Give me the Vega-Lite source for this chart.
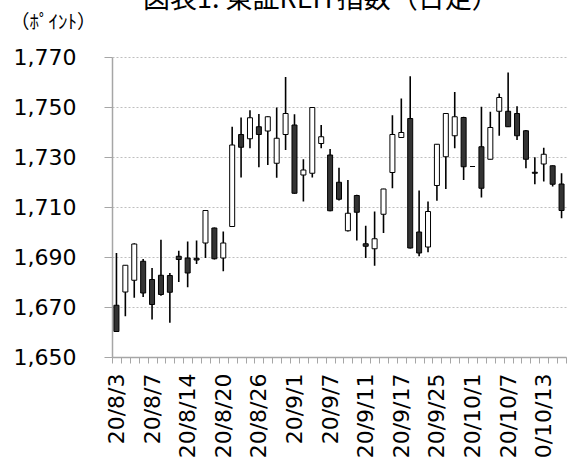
{
  "$schema": "https://vega.github.io/schema/vega-lite/v6.json",
  "width": 454,
  "height": 300,
  "autosize": {"type": "none"},
  "padding": {"left": 112, "top": 57, "right": 3, "bottom": 103},
  "background": "white",
  "title": {
    "text": "図表1: 東証REIT指数（日足）",
    "font": "Noto Sans CJK JP",
    "fontSize": 27,
    "fontWeight": "normal",
    "color": "black",
    "anchor": "start",
    "frame": "group",
    "dx": 31,
    "dy": 22,
    "baseline": "alphabetic",
    "offset": 0
  },
  "config": {"view": {"stroke": null}, "font": "DejaVu Sans"},
  "data": {
    "values": [
      {"d": "20/8/3", "o": 1670.7, "h": 1691.6, "l": 1660.0, "c": 1660.2},
      {"d": "20/8/4", "o": 1676.0, "h": 1686.8, "l": 1666.3, "c": 1686.7},
      {"d": "20/8/5", "o": 1680.7, "h": 1695.5, "l": 1673.7, "c": 1695.2},
      {"d": "20/8/6", "o": 1688.3, "h": 1689.2, "l": 1674.0, "c": 1675.6},
      {"d": "20/8/7", "o": 1681.0, "h": 1685.6, "l": 1665.0, "c": 1671.0},
      {"d": "20/8/11", "o": 1682.7, "h": 1696.9, "l": 1674.5, "c": 1675.0},
      {"d": "20/8/12", "o": 1682.6, "h": 1683.6, "l": 1663.7, "c": 1675.9},
      {"d": "20/8/13", "o": 1690.3, "h": 1692.5, "l": 1680.0, "c": 1689.0},
      {"d": "20/8/14", "o": 1689.6, "h": 1696.2, "l": 1677.9, "c": 1683.6},
      {"d": "20/8/17", "o": 1689.5, "h": 1696.6, "l": 1687.2, "c": 1688.8},
      {"d": "20/8/18", "o": 1695.6, "h": 1708.6, "l": 1689.6, "c": 1708.6},
      {"d": "20/8/19", "o": 1701.6, "h": 1701.8, "l": 1689.0, "c": 1689.3},
      {"d": "20/8/20", "o": 1689.6, "h": 1700.2, "l": 1684.3, "c": 1695.6},
      {"d": "20/8/21", "o": 1702.2, "h": 1742.1, "l": 1702.0, "c": 1734.8},
      {"d": "20/8/24", "o": 1739.0, "h": 1745.8, "l": 1721.8, "c": 1733.9},
      {"d": "20/8/25", "o": 1737.3, "h": 1748.7, "l": 1733.5, "c": 1745.7},
      {"d": "20/8/26", "o": 1742.1, "h": 1747.2, "l": 1725.9, "c": 1739.0},
      {"d": "20/8/27", "o": 1740.4, "h": 1746.3, "l": 1726.8, "c": 1746.1},
      {"d": "20/8/28", "o": 1727.5, "h": 1749.8, "l": 1721.7, "c": 1737.5},
      {"d": "20/8/31", "o": 1739.0, "h": 1762.0, "l": 1732.8, "c": 1747.4},
      {"d": "20/9/1", "o": 1742.8, "h": 1747.1, "l": 1715.3, "c": 1715.5},
      {"d": "20/9/2", "o": 1722.8, "h": 1729.1, "l": 1712.2, "c": 1724.8},
      {"d": "20/9/3", "o": 1723.5, "h": 1749.8, "l": 1721.8, "c": 1749.8},
      {"d": "20/9/4", "o": 1735.4, "h": 1742.8, "l": 1733.5, "c": 1738.1},
      {"d": "20/9/7", "o": 1730.8, "h": 1733.2, "l": 1708.3, "c": 1708.5},
      {"d": "20/9/8", "o": 1719.9, "h": 1725.7, "l": 1712.6, "c": 1713.1},
      {"d": "20/9/9", "o": 1700.5, "h": 1720.8, "l": 1700.2, "c": 1707.5},
      {"d": "20/9/10", "o": 1714.6, "h": 1714.9, "l": 1696.6, "c": 1707.9},
      {"d": "20/9/11", "o": 1695.3, "h": 1702.5, "l": 1689.6, "c": 1694.3},
      {"d": "20/9/14", "o": 1693.3, "h": 1708.2, "l": 1686.5, "c": 1697.3},
      {"d": "20/9/15", "o": 1707.1, "h": 1717.3, "l": 1699.6, "c": 1717.2},
      {"d": "20/9/16", "o": 1723.8, "h": 1746.7, "l": 1717.5, "c": 1739.0},
      {"d": "20/9/17", "o": 1737.8, "h": 1753.4, "l": 1737.7, "c": 1739.8},
      {"d": "20/9/18", "o": 1745.4, "h": 1762.3, "l": 1693.4, "c": 1693.6},
      {"d": "20/9/23", "o": 1700.0, "h": 1716.6, "l": 1690.3, "c": 1691.6},
      {"d": "20/9/24", "o": 1694.0, "h": 1712.2, "l": 1691.9, "c": 1708.2},
      {"d": "20/9/25", "o": 1718.6, "h": 1735.2, "l": 1712.5, "c": 1735.1},
      {"d": "20/9/28", "o": 1730.1, "h": 1747.5, "l": 1717.2, "c": 1747.4},
      {"d": "20/9/29", "o": 1738.5, "h": 1756.0, "l": 1733.5, "c": 1746.1},
      {"d": "20/9/30", "o": 1745.8, "h": 1746.1, "l": 1720.8, "c": 1726.1},
      {"d": "20/10/1", "o": 1726.2, "h": 1726.2, "l": 1726.2, "c": 1726.2},
      {"d": "20/10/2", "o": 1734.1, "h": 1750.1, "l": 1713.8, "c": 1717.5},
      {"d": "20/10/5", "o": 1729.1, "h": 1748.1, "l": 1729.0, "c": 1741.8},
      {"d": "20/10/6", "o": 1748.3, "h": 1755.4, "l": 1738.5, "c": 1753.8},
      {"d": "20/10/7", "o": 1748.3, "h": 1763.8, "l": 1742.0, "c": 1742.1},
      {"d": "20/10/8", "o": 1747.4, "h": 1750.3, "l": 1736.8, "c": 1738.5},
      {"d": "20/10/9", "o": 1740.5, "h": 1740.8, "l": 1725.5, "c": 1729.1},
      {"d": "20/10/12", "o": 1723.9, "h": 1729.9, "l": 1719.1, "c": 1723.5},
      {"d": "20/10/13", "o": 1727.2, "h": 1733.7, "l": 1720.2, "c": 1731.1},
      {"d": "20/10/14", "o": 1726.5, "h": 1726.6, "l": 1718.2, "c": 1719.1},
      {"d": "20/10/15", "o": 1719.2, "h": 1723.5, "l": 1705.5, "c": 1708.6}
    ]
  },
  "encoding": {
    "x": {
      "field": "d",
      "type": "ordinal",
      "sort": null,
      "scale": {"paddingInner": 0, "paddingOuter": 0},
      "axis": {
        "title": null,
        "labelAngle": 270,
        "labelFont": "DejaVu Sans",
        "labelFontSize": 22,
        "labelColor": "black",
        "labelPadding": 10,
        "labelOverlap": false,
        "labelFlush": false,
        "labelBound": false,
        "labelExpr": "indexof(['20/8/3','20/8/7','20/8/14','20/8/20','20/8/26','20/9/1','20/9/7','20/9/11','20/9/17','20/9/25','20/10/1','20/10/7','20/10/13'], datum.label) >= 0 ? datum.label : ''",
        "tickBand": "extent",
        "tickSize": 6,
        "tickColor": "#a6a6a6",
        "tickWidth": 1,
        "domainColor": "#a6a6a6",
        "domainWidth": 1.5,
        "grid": false
      }
    }
  },
  "layer": [
    {
      "mark": {"type": "rule", "color": "black", "strokeWidth": 1.6},
      "encoding": {
        "y": {
          "field": "l",
          "type": "quantitative",
          "scale": {"domain": [1650, 1770], "nice": false, "zero": false},
          "axis": {
            "values": [1650, 1670, 1690, 1710, 1730, 1750, 1770],
            "format": ",.0f",
            "labelFont": "DejaVu Sans",
            "labelFontSize": 22,
            "labelColor": "black",
            "labelPadding": 28,
            "tickSize": 8,
            "tickColor": "#a6a6a6",
            "domainColor": "#a6a6a6",
            "domainWidth": 1.5,
            "grid": true,
            "gridColor": "#bfbfbf",
            "gridDash": [2, 2],
            "gridWidth": 1,
            "title": "（ﾎﾟｲﾝﾄ）",
            "titleAngle": 0,
            "titleAlign": "left",
            "titleBaseline": "alphabetic",
            "titleX": -102,
            "titleY": -29,
            "titleFont": "Noto Sans CJK JP",
            "titleFontSize": 19,
            "titleFontWeight": "normal",
            "titleColor": "black"
          }
        },
        "y2": {"field": "h"}
      }
    },
    {
      "mark": {"type": "bar", "size": 5, "stroke": "black", "strokeWidth": 1},
      "encoding": {
        "y": {"field": "o", "type": "quantitative"},
        "y2": {"field": "c"},
        "fill": {
          "condition": {"test": "datum.c < datum.o", "value": "#333333"},
          "value": "white"
        }
      }
    }
  ]
}
